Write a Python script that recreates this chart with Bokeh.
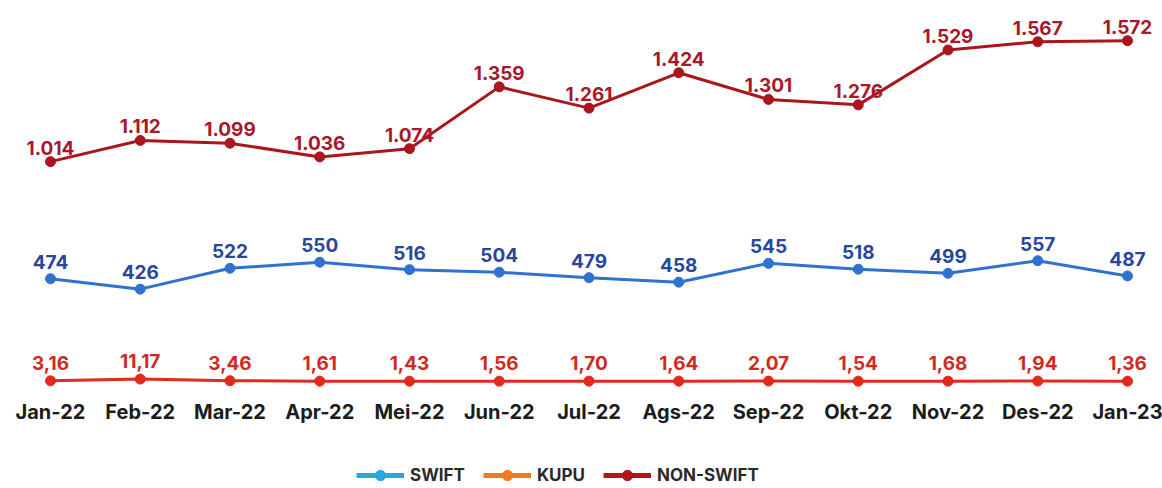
from bokeh.plotting import figure
from bokeh.models import ColumnDataSource, Legend, LegendItem, Range1d
from bokeh.core.properties import value
from bokeh.embed import file_html
from bokeh.resources import INLINE

months = ["Jan-22", "Feb-22", "Mar-22", "Apr-22", "Mei-22", "Jun-22", "Jul-22",
          "Ags-22", "Sep-22", "Okt-22", "Nov-22", "Des-22", "Jan-23"]
swift = [474, 426, 522, 550, 516, 504, 479, 458, 545, 518, 499, 557, 487]
kupu = [3.16, 11.17, 3.46, 1.61, 1.43, 1.56, 1.70, 1.64, 2.07, 1.54, 1.68, 1.94, 1.36]
non_swift = [1014, 1112, 1099, 1036, 1074, 1359, 1261, 1424, 1301, 1276, 1529, 1567, 1572]

swift_labels = [str(v) for v in swift]
kupu_labels = [f"{v:.2f}".replace(".", ",") for v in kupu]
non_swift_labels = [f"{v:,}".replace(",", ".") for v in non_swift]

FONT = "Inter"
x = list(range(len(months)))

W, H = 1162, 488
p = figure(width=W, height=H, output_backend="svg", toolbar_location=None,
           x_range=Range1d(-50 / 89.75, 12 + (W - 1127) / 89.75),
           y_range=Range1d(-(H - 381) / 0.2168, 381 / 0.2168),
           x_axis_location=None, y_axis_location=None,
           min_border_left=0, min_border_right=0, min_border_top=0, min_border_bottom=0)
p.outline_line_color = None
p.grid.grid_line_color = None
p.background_fill_color = "white"

# month labels along the bottom (anchored at y=0, shifted down in screen px)
msrc = ColumnDataSource(dict(x=x, y=[0] * len(x), t=months))
p.text("x", "y", text="t", source=msrc, text_align="center", text_baseline="middle",
       y_offset=30, text_font=value(FONT), text_font_style="bold",
       text_font_size="20px", text_color="#1c1c1c")

series = [
    (non_swift, non_swift_labels, "#ab161d", "#a8172a", -14),
    (swift, swift_labels, "#2f72cf", "#27479a", -17),
    (kupu, kupu_labels, "#e02a1c", "#cf2a1f", -18),
]
for vals, labs, lc, tc, off in series:
    src = ColumnDataSource(dict(x=x, y=vals, t=labs))
    p.line("x", "y", source=src, line_color=lc, line_width=3)
    p.scatter("x", "y", source=src, size=10, fill_color=lc, line_color=lc)
    p.text("x", "y", text="t", source=src, text_align="center", text_baseline="alphabetic",
           y_offset=off, text_font=value(FONT), text_font_style="bold",
           text_font_size="19px", text_color=tc)

# legend entries (renderers hold a single NaN point so only the legend glyph shows)
nan = float("nan")
leg_items = []
for name, col in [("SWIFT", "#2aa6e2"), ("KUPU", "#f27a1e"), ("NON-SWIFT", "#b3141c")]:
    e = ColumnDataSource(dict(x=[nan], y=[nan]))
    r1 = p.line("x", "y", source=e, line_color=col, line_width=5)
    r2 = p.scatter("x", "y", source=e, size=12, fill_color=col, line_color=col)
    leg_items.append(LegendItem(label=name, renderers=[r1, r2]))

legend = Legend(items=leg_items, orientation="horizontal", location=(356, 0),
                glyph_width=48, glyph_height=26, spacing=18, padding=0, margin=0,
                label_text_font=FONT, label_text_font_style="bold",
                label_text_font_size="17px", label_text_color="#2a2a2a",
                border_line_color=None, background_fill_alpha=0, label_standoff=6)
p.add_layout(legend, "center")

open("out.html", "w").write(file_html(p, INLINE))
